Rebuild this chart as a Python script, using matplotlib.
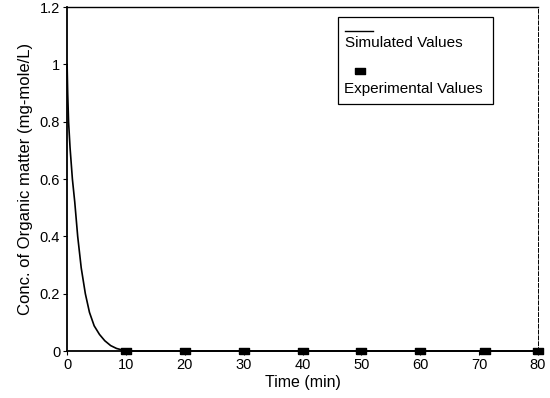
import matplotlib
matplotlib.use("Agg")
import matplotlib.pyplot as plt
from matplotlib.ticker import FuncFormatter
from matplotlib.patches import Rectangle
from matplotlib.lines import Line2D

plt.rcParams['font.family'] = ['Liberation Sans', 'DejaVu Sans']

# Simulated curve
sim_t = [0, 0.1, 0.25, 0.5, 0.9, 1.3, 1.8, 2.4, 3.1, 3.8, 4.6, 5.5, 6.4, 7.4, 8.4, 9.5, 10.5, 20, 40, 60, 80]
sim_c = [1.0, 0.90, 0.80, 0.71, 0.60, 0.52, 0.40, 0.29, 0.20, 0.135, 0.088, 0.058, 0.036, 0.019, 0.009, 0.003, 0.0, 0.0, 0.0, 0.0, 0.0]

# Experimental values
exp_t = [10, 20, 30, 40, 50, 60, 71, 80]
exp_c = [0, 0, 0, 0, 0, 0, 0, 0]

xticks = [0, 10, 20, 30, 40, 50, 60, 70, 80]
yticks = [0, 0.2, 0.4, 0.6, 0.8, 1.0, 1.2]

fig = plt.figure(figsize=(5.5, 3.98), dpi=100)
ax = fig.add_axes([0.122, 0.118, 0.856, 0.864])

ax.plot(sim_t, sim_c, color='black', lw=1.2, zorder=3, clip_on=False)
rect_marker = [(-1, -0.6), (1, -0.6), (1, 0.6), (-1, 0.6), (-1, -0.6)]
ax.plot(exp_t, exp_c, linestyle='none', marker=rect_marker, markersize=6.5,
        color='black', zorder=4, clip_on=False)

ax.set_xlim(0, 80)
ax.set_ylim(0, 1.2)
ax.set_xticks(xticks)
ax.set_yticks(yticks)
ax.yaxis.set_major_formatter(FuncFormatter(lambda v, p: '%g' % v))
ax.tick_params(direction='out', length=3, width=0.8, labelsize=10.5, pad=2)

ax.set_xlabel('Time (min)', fontsize=11.5, labelpad=2)
ax.set_ylabel('Conc. of Organic matter (mg-mole/L)', fontsize=12, labelpad=5)

for s in ['left', 'bottom']:
    ax.spines[s].set_linewidth(1.3)
ax.spines['top'].set_linewidth(1.0)
ax.spines['right'].set_linewidth(0.7)
ax.spines['right'].set_linestyle((0, (4, 2)))

# Legend drawn as a box
ax.add_patch(Rectangle((0.575, 0.718), 0.329, 0.253, transform=ax.transAxes,
                       fill=False, edgecolor='black', lw=0.9, zorder=5))
ax.add_line(Line2D([0.59, 0.65], [0.93, 0.93], transform=ax.transAxes,
                   color='black', lw=1.0))
ax.text(0.59, 0.895, 'Simulated Values', transform=ax.transAxes,
        fontsize=11, va='center', ha='left')
ax.add_line(Line2D([0.622], [0.813], transform=ax.transAxes, marker=rect_marker,
                   markersize=6.5, color='black', linestyle='none'))
ax.text(0.588, 0.762, 'Experimental Values', transform=ax.transAxes,
        fontsize=11, va='center', ha='left')

fig.savefig('out.png', dpi=100)
